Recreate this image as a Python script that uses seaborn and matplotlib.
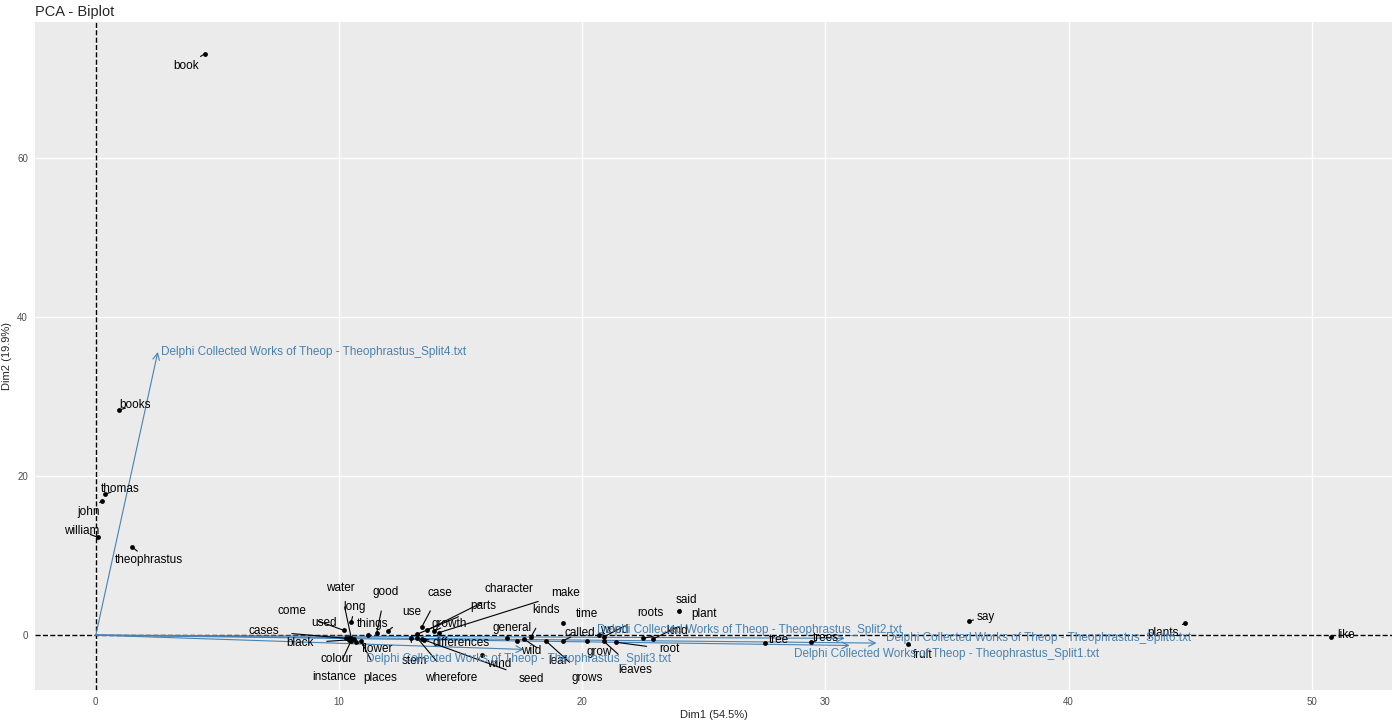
import matplotlib
matplotlib.use("Agg")
import matplotlib.pyplot as plt
import seaborn as sns
import pandas as pd

sns.set_theme(style="darkgrid", rc={"axes.facecolor": "#EBEBEB", "grid.color": "white"})
plt.rcParams['font.family'] = ['Liberation Sans', 'DejaVu Sans']

words = ["book", "books", "thomas", "john", "william", "theophrastus", "say", "plants", "like",
         "said", "tree", "trees", "fruit", "water", "long", "good", "come", "used", "cases",
         "things", "use", "case", "character", "make", "parts", "growth", "black", "colour",
         "instance", "flower", "places", "stem", "differences", "wherefore", "wind", "seed",
         "general", "wild", "kinds", "leaf", "time", "called", "grow", "grows", "roots",
         "leaves", "root", "wood", "kind", "plant"]
dim1 = [4.48, 0.95, 0.37, 0.25, 0.08, 1.48, 35.9, 44.8, 50.8,
        24.0, 27.5, 29.4, 33.4, 10.5, 10.5, 11.55, 10.2, 10.4, 10.3,
        11.2, 12.0, 13.4, 13.6, 14.1, 13.2, 13.9, 10.4, 10.6,
        10.5, 10.7, 10.9, 12.95, 13.4, 13.2, 15.9, 13.5,
        16.9, 17.3, 17.9, 17.6, 19.2, 19.2, 20.2, 18.5, 20.9,
        20.9, 21.4, 20.7, 22.5, 22.9]
dim2 = [73.1, 28.3, 17.7, 16.9, 12.3, 11.1, 1.76, 1.5, -0.25,
        3.0, -1.0, -0.9, -1.1, -0.3, 1.6, 0.25, 0.6, -0.3, -0.4,
        0.0, 0.5, 1.0, 0.6, 0.3, 0.1, 0.5, -0.6, -0.5,
        -0.7, -0.9, -0.7, -0.4, -0.5, -0.3, -2.5, -0.6,
        -0.4, -0.7, -0.2, -0.5, 1.5, -0.7, -0.8, -0.7, -0.2,
        -0.8, -0.9, 0.0, -0.4, -0.5]
label_x = [3.7, 1.6, 1.0, -0.3, -0.6, 2.2, 36.6, 43.9, 51.4,
           24.3, 28.1, 30.0, 34.0, 10.07, 10.65, 11.9, 8.05, 9.4, 6.9,
           11.4, 13.0, 14.15, 17.0, 19.3, 15.95, 14.55, 8.4, 9.9,
           9.8, 11.6, 11.7, 13.1, 15.0, 14.6, 16.6, 17.9,
           17.1, 17.9, 18.5, 19.0, 20.2, 19.9, 20.7, 20.2, 22.8,
           22.2, 23.6, 21.3, 23.9, 25.0]
label_y = [71.6, 28.9, 18.4, 15.5, 13.1, 9.4, 2.3, 0.25, 0.0,
           4.4, -0.6, -0.4, -2.5, 5.9, 3.5, 5.4, 3.0, 1.5, 0.5,
           1.4, 2.9, 5.3, 5.8, 5.3, 3.65, 1.4, -1.0, -3.0,
           -5.3, -1.8, -5.4, -3.3, -1.0, -5.4, -3.6, -5.5,
           0.9, -2.0, 3.1, -3.3, 2.6, 0.25, -2.1, -5.4, 2.8,
           -4.4, -1.8, 0.6, 0.5, 2.6]

var_names = ["Delphi Collected Works of Theop - Theophrastus_Split4.txt",
             "Delphi Collected Works of Theop - Theophrastus_Split2.txt",
             "Delphi Collected Works of Theop - Theophrastus_Split6.txt",
             "Delphi Collected Works of Theop - Theophrastus_Split1.txt",
             "Delphi Collected Works of Theop - Theophrastus_Split3.txt"]
var_dim1 = [2.55, 30.8, 32.1, 31.0, 17.6]
var_dim2 = [35.6, -0.4, -1.0, -1.3, -1.8]
var_label_x = [2.7, 20.6, 32.5, 28.7, 11.1]
var_label_y = [35.6, 0.6, -0.3, -2.4, -3.0]

df = pd.DataFrame({"Dim1": dim1, "Dim2": dim2})

fig = plt.figure(figsize=(14, 7.2), dpi=100)
ax = fig.add_axes([35/1400, 30/720, 1357/1400, 668/720])
ax.axhline(0, color="black", ls="--", lw=1, zorder=1)
ax.axvline(0, color="black", ls="--", lw=1, zorder=1)
sns.scatterplot(data=df, x="Dim1", y="Dim2", color="black", s=12, edgecolor="black",
                linewidth=0, ax=ax, zorder=3)

for w, x, y, lx, ly in zip(words, dim1, dim2, label_x, label_y):
    ax.annotate(w, xy=(x, y), xytext=(lx, ly), fontsize=8.5, ha="center", va="center",
                color="black", zorder=4,
                arrowprops=dict(arrowstyle="-", color="black", lw=0.8, shrinkA=7, shrinkB=1))

sc = "#4682B4"
for n, x, y, lx, ly in zip(var_names, var_dim1, var_dim2, var_label_x, var_label_y):
    ax.annotate("", xy=(x, y), xytext=(0, 0),
                arrowprops=dict(arrowstyle="->", color=sc, lw=0.8, shrinkA=0, shrinkB=0), zorder=2)
    ax.text(lx, ly, n, color=sc, fontsize=8.5, ha="left", va="center", zorder=4)

ax.set_xlim(-2.5, 53.3)
ax.set_ylim(-6.9, 77.1)
ax.set_xticks([0, 10, 20, 30, 40, 50])
ax.set_yticks([0, 20, 40, 60])
ax.tick_params(labelsize=7, colors="#4D4D4D", length=3, pad=2)
for s in ax.spines.values():
    s.set_visible(False)
ax.set_xlabel("Dim1 (54.5%)", fontsize=8, labelpad=2)
ax.set_ylabel("Dim2 (19.9%)", fontsize=8, labelpad=4)
fig.text(35/1400, 1 - 12/720, "PCA - Biplot", fontsize=10.5, va="center", ha="left")
fig.savefig("out.png")
